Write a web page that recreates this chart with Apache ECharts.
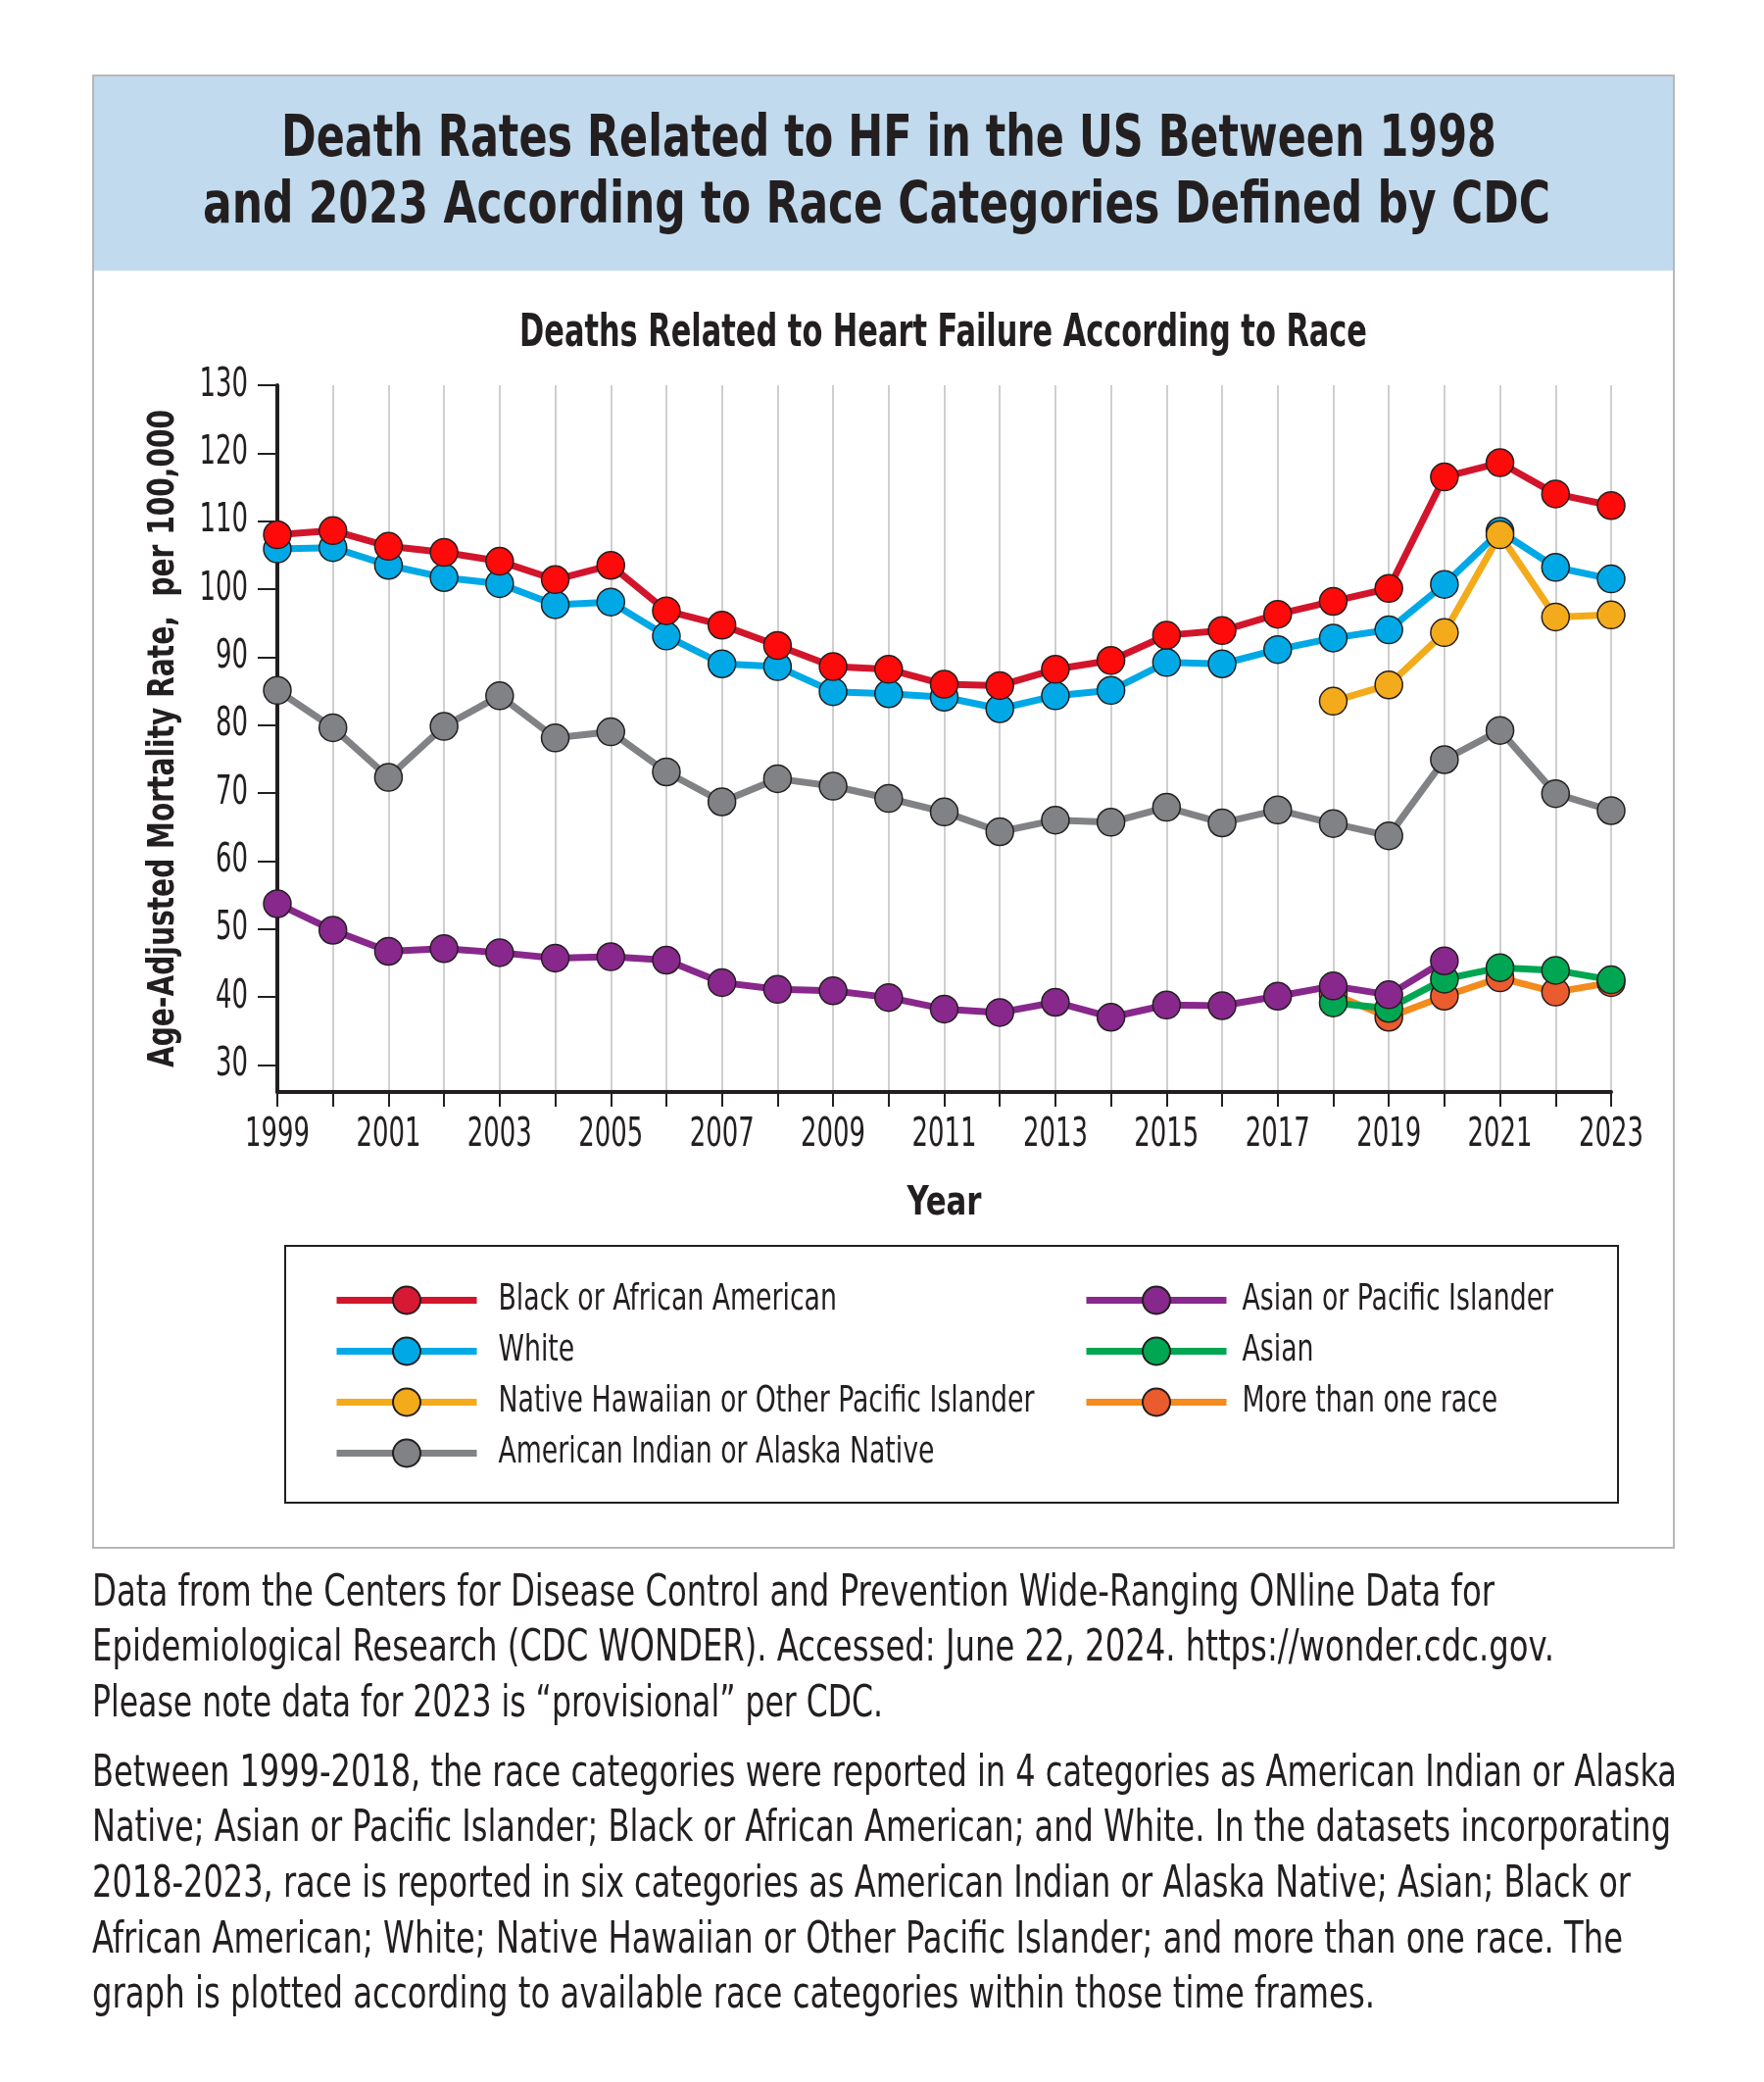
<!DOCTYPE html>
<html>
<head>
<meta charset="utf-8">
<script src="https://cdn.jsdelivr.net/npm/echarts@6/dist/echarts.min.js"></script>
<style>
html,body{margin:0;padding:0;background:#fff;}
#chart{width:1800px;height:2124px;}
</style>
</head>
<body>
<div id="chart"></div>
<script>
// ---------------- DATA ----------------
const years = ['1999','2000','2001','2002','2003','2004','2005','2006','2007','2008','2009','2010','2011','2012','2013','2014','2015','2016','2017','2018','2019','2020','2021','2022','2023'];
const black = [108.0,108.6,106.3,105.4,104.1,101.4,103.5,96.8,94.7,91.7,88.6,88.2,86.0,85.8,88.2,89.5,93.2,93.9,96.3,98.2,100.1,116.5,118.6,114.0,112.3];
const white = [105.9,106.1,103.5,101.7,100.8,97.7,98.1,93.1,89.0,88.6,84.9,84.6,84.1,82.4,84.3,85.1,89.2,89.0,91.1,92.8,94.0,100.7,108.5,103.2,101.5];
const nhopi = [null,null,null,null,null,null,null,null,null,null,null,null,null,null,null,null,null,null,null,83.5,85.9,93.6,108.0,95.9,96.2];
const aian = [85.1,79.6,72.3,79.8,84.3,78.1,79.0,73.1,68.7,72.1,71.0,69.2,67.2,64.3,66.0,65.7,67.9,65.6,67.5,65.5,63.7,74.9,79.2,69.9,67.4];
const api = [53.7,49.8,46.7,47.1,46.5,45.7,45.9,45.4,42.1,41.1,40.9,39.9,38.2,37.7,39.2,37.0,38.8,38.7,40.1,41.6,40.3,45.3,null,null,null];
const asian = [null,null,null,null,null,null,null,null,null,null,null,null,null,null,null,null,null,null,null,39.1,38.3,42.6,44.3,43.9,42.5];
const multi = [null,null,null,null,null,null,null,null,null,null,null,null,null,null,null,null,null,null,null,40.4,37.0,40.1,42.8,40.7,42.1];
const yTicks = [30,40,50,60,70,80,90,100,110,120,130];

const names = {
  black:'Black or African American', white:'White', nhopi:'Native Hawaiian or Other Pacific Islander',
  aian:'American Indian or Alaska Native', api:'Asian or Pacific Islander', asian:'Asian', multi:'More than one race'
};
const titleLines = ['Death Rates Related to HF in the US Between 1998','and 2023 According to Race Categories Defined by CDC'];
const subtitle = 'Deaths Related to Heart Failure According to Race';
const yName = 'Age-Adjusted Mortality Rate,  per 100,000';
const xName = 'Year';
const notes = [
 'Data from the Centers for Disease Control and Prevention Wide-Ranging ONline Data for',
 'Epidemiological Research (CDC WONDER). Accessed: June 22, 2024. https://wonder.cdc.gov.',
 'Please note data for 2023 is \u201cprovisional\u201d per CDC.',
 'Between 1999-2018, the race categories were reported in 4 categories as American Indian or Alaska',
 'Native; Asian or Pacific Islander; Black or African American; and White. In the datasets incorporating',
 '2018-2023, race is reported in six categories as American Indian or Alaska Native; Asian; Black or',
 'African American; White; Native Hawaiian or Other Pacific Islander; and more than one race. The',
 'graph is plotted according to available race categories within those time frames.'
];

// ---------------- FONT HELPERS ----------------
const cv = document.createElement('canvas');
const ctx = cv.getContext('2d');
function measure(text, font){ ctx.font = font; return ctx.measureText(text).width; }
function hasFont(name){
  const t = 'abcdefghijklmnopqrstuvwxyzABCDEFGHIJ0123456789';
  return measure(t, "40px '" + name + "', monospace") !== measure(t, '40px monospace') ||
         measure(t, "40px '" + name + "', serif") !== measure(t, '40px serif');
}
const COND = ['Liberation Sans Narrow','DejaVu Sans Condensed','Roboto Condensed','Arial Narrow'].find(hasFont) || 'Roboto';
const FF = "'" + COND + "', 'Roboto', sans-serif";
const INK = '#231f20';

function scaleFor(text, target, weight, size){
  return target / measure(text, weight + ' ' + size + 'px ' + FF);
}

function gText(text, cx, cy, size, weight, width, align){
  return {
    type:'text', x: cx, y: cy, scaleX: scaleFor(text, width, weight, size), silent:true,
    style:{ text:text, font: weight + ' ' + size + 'px ' + FF, fill: INK,
            textAlign: align || 'center', textVerticalAlign:'middle' }
  };
}

const graphics = [];
graphics.push({type:'rect', shape:{x:95,y:77,width:1613,height:1502}, style:{fill:'#fff', stroke:'#b7b7b7', lineWidth:2}, z:-10, silent:true});
graphics.push({type:'rect', shape:{x:96,y:78,width:1611,height:198}, style:{fill:'#c2daed'}, z:-9, silent:true});
graphics.push({type:'rect', shape:{x:291,y:1271,width:1360,height:262}, style:{fill:'none', stroke:INK, lineWidth:2}, silent:true});
graphics.push(gText(titleLines[0], 907, 144, 58, 'bold', 1240));
graphics.push(gText(titleLines[1], 894.5, 212, 58, 'bold', 1375));
graphics.push(gText(subtitle, 962.5, 341, 46, 'bold', 865));
const noteY = [1627,1683,1740,1811,1867,1924,1981,2037];
const noteEnd = [1525,1586,901,1711,1705,1664,1656,1403];
notes.forEach((t,i)=>{ graphics.push(gText(t, 94, noteY[i], 44, 'normal', noteEnd[i]-94, 'left')); });

const tickFS = 41, legendFS = 38, yNameFS = 37, xNameFS = 41;
const tickScale = scaleFor('1999', 66, 'normal', tickFS);
const legendScale = scaleFor(names.nhopi, 547, 'normal', legendFS);
const yNameScale = scaleFor(yName, 671, 'bold', yNameFS);
const xNameScale = scaleFor(xName, 76, 'bold', xNameFS);

function mkSeries(key, data, line, fill){
  return {
    name: names[key], type:'line', data:data, connectNulls:false,
    symbol:'circle', symbolSize:28,
    lineStyle:{color:line, width:7},
    itemStyle:{color:fill, borderColor:INK, borderWidth:1.5},
    emphasis:{disabled:true}, animation:false
  };
}

const legendCommon = {
  orient:'vertical', top:1307.5, padding:0, itemWidth:143, itemHeight:35, itemGap:14, selectedMode:false,
  lineStyle:{width:7}
};

const option = {
  animation:false,
  backgroundColor:'#fff',
  grid:{left:283, right:156, top:393, bottom:1010, containLabel:false},
  legend:[
    Object.assign({}, legendCommon, {
      data:[{name:names.black, itemStyle:{color:'#d71a33'}}, names.white, names.nhopi, names.aian], left:340,
      textStyle:{fontFamily:FF, fontSize:legendFS, lineHeight:35, color:INK, padding:[0,0,0,17/legendScale]}}),
    Object.assign({}, legendCommon, {
      data:[names.api, names.asian, names.multi], left:1105,
      textStyle:{fontFamily:FF, fontSize:legendFS, lineHeight:35, color:INK, padding:[0,0,0,11/legendScale]}})
  ],
  xAxis:{
    type:'category', data:years, boundaryGap:false,
    name:xName, nameLocation:'middle', nameGap:94, nameMoveOverlap:false,
    nameTextStyle:{fontFamily:FF, fontWeight:'bold', fontSize:xNameFS, color:INK},
    axisLine:{onZero:false, lineStyle:{color:INK, width:4}},
    axisTick:{show:true, interval:0, length:15, lineStyle:{color:INK, width:2}},
    axisLabel:{interval:1, margin:24, fontFamily:FF, fontSize:tickFS, color:INK},
    splitLine:{show:true, interval:0, lineStyle:{color:'#cfcfcf', width:2}}
  },
  yAxis:{
    type:'value', min:26, max:130,
    name:yName, nameLocation:'middle', nameGap:97, nameRotate:90, nameMoveOverlap:false,
    nameTextStyle:{fontFamily:FF, fontWeight:'bold', fontSize:yNameFS, color:INK},
    axisLine:{show:true, lineStyle:{color:INK, width:4}},
    axisTick:{show:true, length:20, customValues:yTicks, lineStyle:{color:INK, width:2}},
    axisLabel:{customValues:yTicks, margin:30, fontFamily:FF, fontSize:tickFS, color:INK},
    splitLine:{show:false}
  },
  graphic: graphics,
  series:[
    mkSeries('aian', aian, '#808285', '#808285'),
    mkSeries('white', white, '#00a9e6', '#00a9e6'),
    mkSeries('nhopi', nhopi, '#f3ab1b', '#f3ab1b'),
    mkSeries('black', black, '#d2152b', '#ff0a0a'),
    mkSeries('multi', multi, '#f38b1e', '#ea5b2d'),
    mkSeries('asian', asian, '#00a651', '#00a651'),
    mkSeries('api', api, '#88288c', '#88288c')
  ]
};

const chart = echarts.init(document.getElementById('chart'), null, {renderer:'canvas'});
chart.setOption(option);

// condense the library-drawn texts horizontally around their own anchor
function condenseTexts(){
  try {
    const map = {};
    years.forEach(y => map[y] = tickScale);
    yTicks.forEach(v => map[String(v)] = tickScale);
    Object.keys(names).forEach(k => map[names[k]] = legendScale);
    map[yName] = yNameScale;
    map[xName] = xNameScale;
    const zr = chart.getZr();
    const visit = el => {
      if (el.type === 'text' && el.style && Object.prototype.hasOwnProperty.call(map, el.style.text)) {
        el.originX = el.style.x || 0;
        el.originY = el.style.y || 0;
        el.scaleX = map[el.style.text];
        el.markRedraw && el.markRedraw();
      }
      if (el.isGroup && el.eachChild) el.eachChild(visit);
    };
    zr.storage.getRoots().forEach(visit);
    zr.refreshImmediately();
  } catch (e) { console.log(e); }
}
condenseTexts();
chart.on('finished', condenseTexts);
</script>
</body>
</html>
